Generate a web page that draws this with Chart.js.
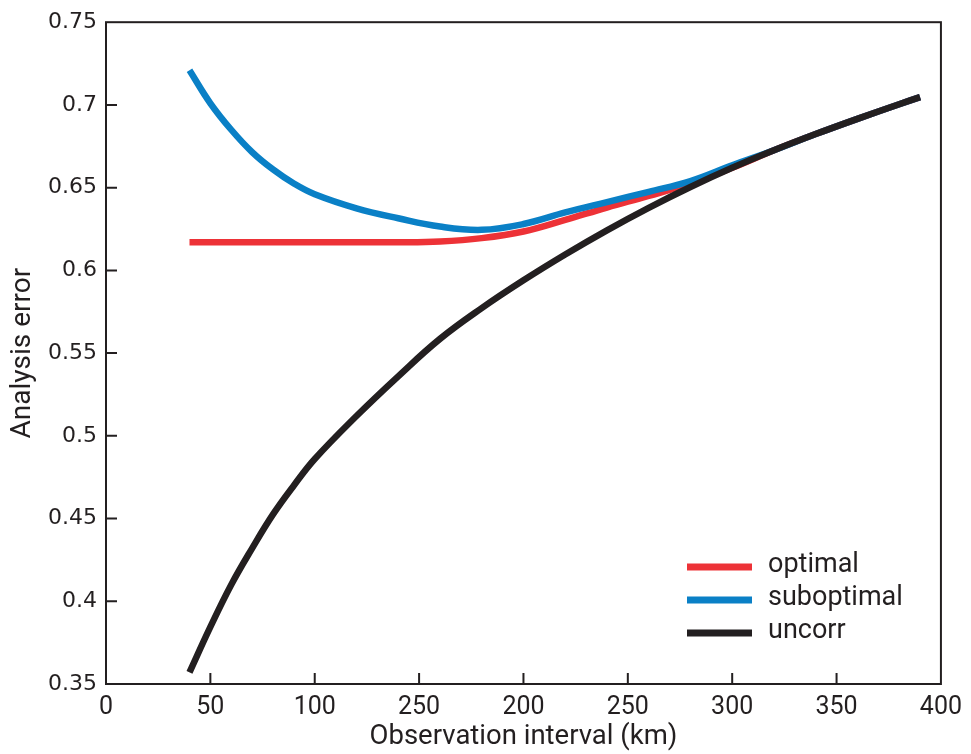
<!DOCTYPE html>
<html>
<head>
<meta charset="utf-8">
<script src="https://cdn.jsdelivr.net/npm/chart.js@4/dist/chart.umd.min.js"></script>
<style>
  html, body { margin: 0; padding: 0; background: #ffffff; }
  #wrap { width: 971px; height: 754px; position: relative; }
</style>
</head>
<body>
<div id="wrap"><canvas id="c" width="971" height="754"></canvas></div>
<script>
// ---- data ----
const xInterval = [40, 50, 60, 70, 80, 90, 100, 120, 140, 160, 180, 200, 220, 240, 260, 280, 300, 320, 340, 360, 380, 390];
const optimal    = [0.617, 0.617, 0.617, 0.617, 0.617, 0.617, 0.617, 0.617, 0.617, 0.6175, 0.6195, 0.6235, 0.6305, 0.638, 0.645, 0.6525, 0.662, 0.6726, 0.6824, 0.6916, 0.7004, 0.7047];
const suboptimal = [0.721, 0.701, 0.685, 0.6715, 0.661, 0.6525, 0.646, 0.6375, 0.6315, 0.6265, 0.6245, 0.628, 0.635, 0.6413, 0.6475, 0.654, 0.6635, 0.6726, 0.6824, 0.6916, 0.7004, 0.7047];
const uncorr     = [0.357, 0.3845, 0.410, 0.432, 0.4525, 0.470, 0.486, 0.512, 0.536, 0.5586, 0.5772, 0.594, 0.6096, 0.6242, 0.6378, 0.6504, 0.662, 0.6726, 0.6824, 0.6916, 0.7004, 0.7047];
const seriesNames = ["optimal", "suboptimal", "uncorr"];
const xTickLabels = ["0", "50", "100", "250", "200", "250", "300", "350", "400"];
const yTickLabels = ["0.35", "0.4", "0.45", "0.5", "0.55", "0.6", "0.65", "0.7", "0.75"];

const INK = '#231f20';
const SANS = 'Roboto, "Noto Sans", sans-serif';

function pts(ys) { return xInterval.map((x, i) => ({ x: x, y: ys[i] })); }

const framePlugin = {
  id: 'frame',
  afterDatasetsDraw(chart) {
    const ctx = chart.ctx, a = chart.chartArea;
    const xs = chart.scales.x, ys = chart.scales.y;
    ctx.save();
    ctx.strokeStyle = INK;
    ctx.lineWidth = 2;
    ctx.strokeRect(a.left, a.top, a.right - a.left, a.bottom - a.top);
    ctx.beginPath();
    xs.ticks.forEach(t => {
      const px = xs.getPixelForValue(t.value);
      if (px > a.left + 2 && px < a.right - 2) {
        ctx.moveTo(px, a.bottom); ctx.lineTo(px, a.bottom - 11);
      }
    });
    ys.ticks.forEach(t => {
      const py = ys.getPixelForValue(t.value);
      if (py > a.top + 2 && py < a.bottom - 2) {
        ctx.moveTo(a.left, py); ctx.lineTo(a.left + 11, py);
      }
    });
    ctx.stroke();

    // legend
    const lx = 687, lw = 65, ly0 = 567, dy = 33;
    ctx.font = '27px ' + SANS;
    ctx.textBaseline = 'middle';
    ctx.textAlign = 'left';
    chart.data.datasets.forEach((ds, i) => {
      const y = ly0 + i * dy;
      ctx.beginPath();
      ctx.strokeStyle = ds.borderColor;
      ctx.lineWidth = 7;
      ctx.moveTo(lx, y); ctx.lineTo(lx + lw, y);
      ctx.stroke();
      ctx.fillStyle = INK;
      ctx.fillText(ds.label, 768, y - 2);
    });
    ctx.restore();
  }
};

new Chart(document.getElementById('c'), {
  type: 'line',
  data: {
    datasets: [
      { label: seriesNames[0], data: pts(optimal), borderColor: '#ed3237', order: 3 },
      { label: seriesNames[1], data: pts(suboptimal), borderColor: '#0a80c6', order: 2 },
      { label: seriesNames[2], data: pts(uncorr), borderColor: '#231f20', order: 1 }
    ].map(d => Object.assign(d, { borderWidth: 6.5, pointRadius: 0, fill: false, tension: 0.4, borderCapStyle: 'butt' }))
  },
  options: {
    responsive: false,
    animation: false,
    devicePixelRatio: 1,
    layout: { padding: { top: 21, right: 24, left: 0, bottom: 0 } },
    plugins: { legend: { display: false }, tooltip: { enabled: false } },
    scales: {
      x: {
        type: 'linear', min: 0, max: 400,
        afterFit(s) { s.height = 70; },
        grid: { display: false, drawTicks: false },
        border: { display: false },
        ticks: {
          stepSize: 50, padding: 9, color: INK,
          font: { family: SANS, size: 25 },
          maxRotation: 0, autoSkip: false,
          callback: (v, i) => xTickLabels[i]
        },
        title: { display: true, text: 'Observation interval (km)', color: INK, font: { family: SANS, size: 27.5 }, padding: { top: 0, bottom: 0 } }
      },
      y: {
        type: 'linear', min: 0.35, max: 0.75,
        afterFit(s) { s.width = 106; },
        grid: { display: false, drawTicks: false },
        border: { display: false },
        ticks: {
          stepSize: 0.05, padding: 9, color: INK,
          font: { family: '"DejaVu Sans", sans-serif', size: 22 },
          autoSkip: false,
          callback: (v, i) => yTickLabels[i]
        },
        title: { display: true, text: 'Analysis error', color: INK, font: { family: SANS, size: 28 }, padding: { top: 6, bottom: 0 } }
      }
    }
  },
  plugins: [framePlugin]
});
</script>
</body>
</html>
